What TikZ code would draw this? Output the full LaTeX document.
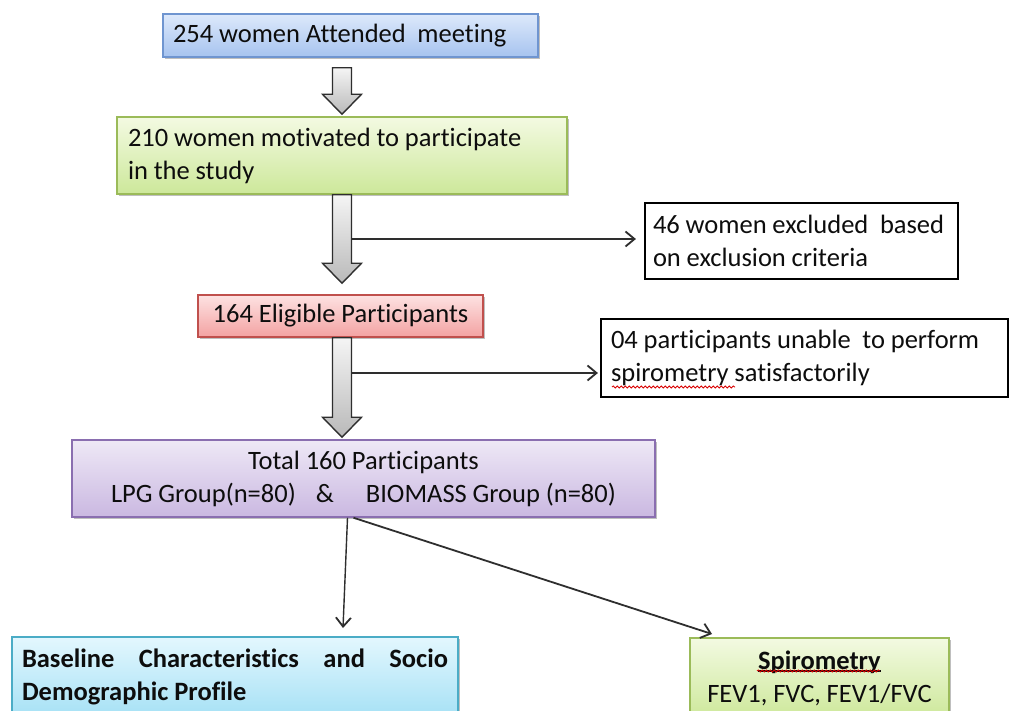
\documentclass[tikz,border=0pt]{standalone}
\usepackage{fontspec}
\setmainfont{Carlito}[Ligatures=NoCommon]
\usetikzlibrary{arrows.meta,shadows,calc,decorations.pathmorphing}
\newcommand\myuline[1]{\setbox0\hbox{#1}\rlap{\rule[-2.5pt]{\wd0}{1.3pt}}\box0}
\newcommand\boxfont{\fontsize{26.5}{33}\selectfont\hyphenpenalty=10000\relax}
\newcommand\tsp{\spaceskip=0.22em\relax\xspaceskip=0.22em\relax}
\definecolor{bluetop}{HTML}{DDE9FB}
\definecolor{bluebot}{HTML}{A6C3EF}
\definecolor{blueln}{HTML}{6F95D0}
\definecolor{grntop}{HTML}{F3FAE2}
\definecolor{grnbot}{HTML}{CDE89A}
\definecolor{grnln}{HTML}{9BBB59}
\definecolor{redtop}{HTML}{FDE2E2}
\definecolor{redbot}{HTML}{F3A2A2}
\definecolor{redln}{HTML}{C0504D}
\definecolor{purtop}{HTML}{EEE8F6}
\definecolor{purbot}{HTML}{CAB8E1}
\definecolor{purln}{HTML}{8A6EB0}
\definecolor{cyantop}{HTML}{E3F7FE}
\definecolor{cyanbot}{HTML}{A6E1F5}
\definecolor{cyanln}{HTML}{4BACC6}
\definecolor{arrln}{HTML}{2E2E2E}
\tikzset{
  x=1pt, y=-1pt,
  txt/.style={font=\boxfont, text=black!95},
  shbox/.style={txt, draw, line width=1.5pt, inner ysep=0pt,
    drop shadow={shadow xshift=2pt, shadow yshift=-2pt, opacity=0.25, fill=black}},
  bluebox/.style={shbox, draw=blueln, top color=bluetop, bottom color=bluebot},
  grnbox/.style={shbox, draw=grnln, top color=grntop, bottom color=grnbot},
  redbox/.style={shbox, draw=redln, top color=redtop, bottom color=redbot},
  purbox/.style={shbox, draw=purln, top color=purtop, bottom color=purbot},
  cyanbox/.style={shbox, draw=cyanln, top color=cyantop, bottom color=cyanbot},
  exbox/.style={txt, draw=black, line width=2.2pt, inner ysep=0pt, fill=white},
  barrow/.style={draw=arrln, line width=1.4pt, top color=gray!8, bottom color=gray!55,
    line join=miter},
  thinarrow/.style={draw=arrln, line width=1.8pt, -{Straight Barb[length=9pt,width=15pt,line width=1.8pt]}},
  squig/.style={draw=red!85!black, line width=0.8pt,
    decorate, decoration={snake, amplitude=1.1pt, segment length=4pt}}
}
\newcommand\blockarrow[2]{%
  \draw[barrow] let \p1=(#1), \p2=(#2) in
    (\x1-9.5pt,\y1) -- (\x1+9.5pt,\y1) -- (\x1+9.5pt,\y2+20pt) --
    (\x1+19.5pt,\y2+20pt) -- (\x1,\y2) -- (\x1-19.5pt,\y2+20pt) --
    (\x1-9.5pt,\y2+20pt) -- cycle;}
\begin{document}
\begin{tikzpicture}
\useasboundingbox (0,0) rectangle (1010,711);
\fill[white] (0,0) rectangle (1010,711);

% boxes
\node[bluebox, text width=355pt, inner xsep=10pt, minimum height=43pt, align=left]
  (b1) at (350.5,35.5) {\tsp 254 women Attended\ \ meeting};
\node[grnbox, text width=428pt, inner xsep=11pt, minimum height=77pt, align=left]
  (b2) at (342,155.5) {\tsp 210 women motivated to participate\\in the study};
\node[exbox, text width=297pt, inner xsep=8pt, minimum height=76pt, align=left]
  (e1) at (801.5,241) {\tsp\mbox{46 women excluded\ \ based}\\on exclusion criteria};
\node[redbox, minimum width=285pt, minimum height=42pt, inner xsep=0pt]
  (b3) at (340.5,316) {\tsp 164 Eligible Participants};
\node[exbox, text width=387pt, inner xsep=10pt, minimum height=78pt, align=left]
  (e2) at (804.5,358) {\tsp 04 participants unable\ \ to perform\\spirometry satisfactorily};
\node[purbox, text width=563pt, inner xsep=10pt, minimum height=77pt, align=center]
  (b4) at (363.5,478.5) {\tsp Total 160 Participants\\LPG Group(n=80)\hspace{20pt}\&\hspace{32pt}BIOMASS Group (n=80)};
\node[cyanbox, text width=426pt, inner xsep=10pt, minimum height=80pt, align=justify,
  font=\boxfont\bfseries]
  (b5) at (235,677) {Baseline Characteristics and Socio Demographic Profile};
\node[grnbox, text width=239pt, inner xsep=10pt, minimum height=80pt, align=center]
  (b6) at (819.5,678) {\tsp\textbf{\myuline{Spirometry}}\\FEV1, FVC, FEV1/FVC};

% spell-check squiggles
\coordinate (s1a) at (612,387); \coordinate (s1b) at (735,387);
\draw[squig] (s1a) -- (s1b);
\coordinate (s2a) at (757,671); \coordinate (s2b) at (880,671);
\draw[squig] (s2a) -- (s2b);

% block arrows
\coordinate (ax) at (342,0);
\coordinate (a1s) at ($(b1.south -| ax)+(0,10)$);
\coordinate (a1e) at ($(b2.north -| ax)+(0,-2)$);
\coordinate (a2s) at (b2.south -| ax);
\coordinate (a2e) at ($(b3.north -| ax)+(0,-11)$);
\coordinate (a3s) at (b3.south -| ax);
\coordinate (a3e) at ($(b4.north -| ax)+(0,-2)$);
\blockarrow{a1s}{a1e}
\blockarrow{a2s}{a2e}
\blockarrow{a3s}{a3e}

% side arrows
\coordinate (t1) at (352,239);
\coordinate (t2) at (352,373);
\draw[thinarrow, shorten >=8pt] (t1) -- (t1 -| e1.west);
\draw[thinarrow, shorten >=2pt] (t2) -- (t2 -| e2.west);

% bottom arrows
\coordinate (p1) at (343,628);
\coordinate (p2) at (712,634);
\draw[thinarrow, line width=1.4pt] ($(b4.south)+(-16,0)$) -- (p1);
\draw[thinarrow] ($(b4.south)+(-10,0)$) -- (p2);
\end{tikzpicture}
\end{document}
